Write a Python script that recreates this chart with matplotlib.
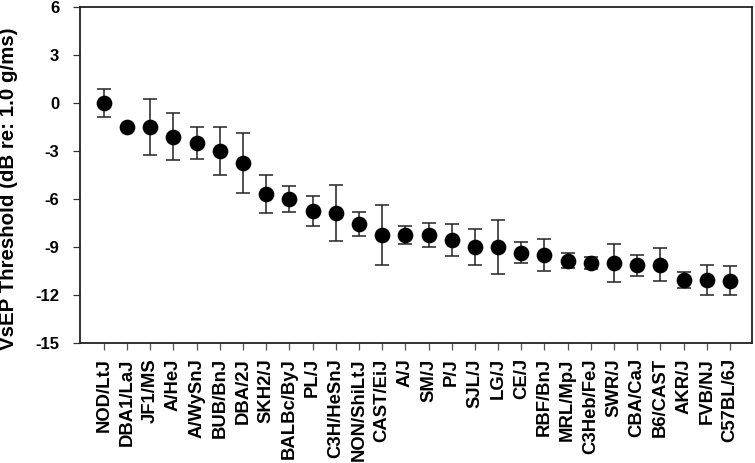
import matplotlib
matplotlib.use("Agg")
import matplotlib.pyplot as plt

plt.rcParams["font.family"] = ["Liberation Sans", "DejaVu Sans"]
plt.rcParams["font.weight"] = "bold"
plt.rcParams["axes.unicode_minus"] = False

strains = ["NOD/LtJ", "DBA1/LaJ", "JF1/MS", "A/HeJ", "A/WySnJ", "BUB/BnJ", "DBA/2J",
           "SKH2/J", "BALBc/ByJ", "PL/J", "C3H/HeSnJ", "NON/ShiLtJ", "CAST/EiJ", "A/J",
           "SM/J", "P/J", "SJL/J", "LG/J", "CE/J", "RBF/BnJ", "MRL/MpJ", "C3Heb/FeJ",
           "SWR/J", "CBA/CaJ", "B6/CAST", "AKR/J", "FVB/NJ", "C57BL/6J"]
threshold = [0.0, -1.5, -1.5, -2.1, -2.5, -3.0, -3.75, -5.7, -6.0, -6.75, -6.9, -7.55,
             -8.25, -8.25, -8.25, -8.55, -9.0, -9.0, -9.35, -9.5, -9.85, -10.0, -10.0,
             -10.15, -10.1, -11.05, -11.05, -11.1]
sem = [0.88, 0.0, 1.75, 1.45, 1.0, 1.5, 1.87, 1.2, 0.8, 0.94, 1.75, 0.77, 1.88, 0.54,
       0.74, 1.0, 1.12, 1.68, 0.65, 1.0, 0.46, 0.4, 1.2, 0.68, 1.05, 0.5, 0.93, 0.9]

fig = plt.figure(figsize=(7.55, 4.63), dpi=100)
ax = fig.add_axes([0.106, 0.259, 0.89, 0.726])

x = list(range(len(strains)))
ax.errorbar(x, threshold, yerr=sem, fmt="o", color="black", ms=10.3, ecolor="#222222",
            elinewidth=1.1, capsize=5, capthick=1.1, zorder=3)

ax.set_xlim(-1.03, 27.95)
ax.set_ylim(-15, 6)
ax.set_yticks(range(-15, 7, 3))
ax.set_xticks(x)
ax.set_xticklabels(strains, rotation=90, fontsize=13.3, fontweight="bold")
ax.tick_params(axis="x", direction="out", length=5, width=0.9, colors="#555555",
               labelcolor="black", pad=6)
ax.tick_params(axis="y", direction="out", length=5, width=0.9, colors="#333333",
               labelcolor="black", labelsize=12, pad=10)
for lab in ax.get_yticklabels():
    lab.set_fontweight("bold")
ax.set_ylabel("VsEP Threshold (dB re: 1.0 g/ms)", fontsize=14.8, fontweight="bold")
ax.yaxis.set_label_coords(-0.092, 0.458)
for sp in ax.spines.values():
    sp.set_linewidth(1.3)
    sp.set_color("#222222")

fig.savefig("out.png", dpi=100)
